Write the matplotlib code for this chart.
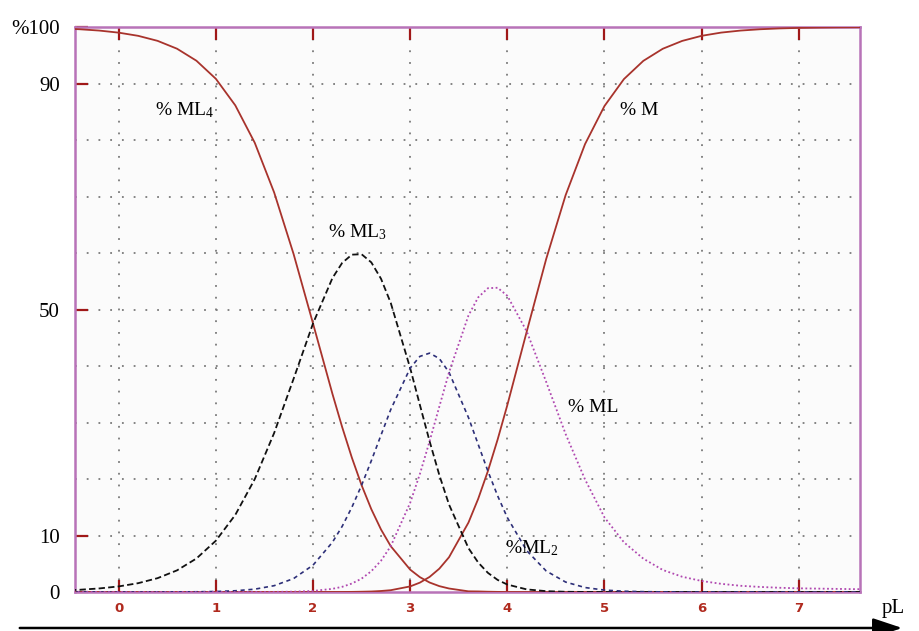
import numpy as np
import matplotlib
matplotlib.use("Agg")
import matplotlib.pyplot as plt
import matplotlib.patches as mpatches

plt.rcParams["mathtext.fontset"] = "custom"
plt.rcParams["mathtext.rm"] = "Liberation Serif"
plt.rcParams["mathtext.it"] = "Liberation Serif:italic"

# pL values along the x axis
pL = [-0.6, -0.4, -0.2, 0.0, 0.2, 0.4, 0.6, 0.8, 1.0, 1.2, 1.4, 1.6, 1.8, 2.0, 2.2,
      2.3, 2.4, 2.5, 2.6, 2.7, 2.8,
      3.0, 3.1, 3.2, 3.3, 3.4,
      3.6, 3.7, 3.8, 3.9,
      4.0, 4.2, 4.4, 4.6, 4.8, 5.0, 5.2, 5.4, 5.6, 5.8,
      6.0, 6.2, 6.4, 6.6, 6.8, 7.0, 7.2, 7.4, 7.6, 7.8]

# percentage of each species
pct_ML4 = [99.75, 99.60, 99.37, 99.00, 98.44, 97.55, 96.16, 94.03, 90.83, 86.13,
           79.52, 70.71, 59.82, 47.53, 35.06,
           29.19, 23.77, 18.90, 14.66, 11.06, 8.11,
           3.96, 2.63, 1.68, 1.04, 0.62,
           0.12, 0.10, 0.05, 0.02,
           0, 0, 0, 0, 0, 0, 0, 0, 0, 0,
           0, 0, 0, 0, 0, 0, 0, 0, 0, 0]
pct_ML3 = [0.25, 0.40, 0.63, 0.99, 1.56, 2.45, 3.83, 5.93, 9.08, 13.65,
           19.97, 28.15, 37.74, 47.53, 55.57,
           58.25, 59.71, 59.78, 58.34, 55.44, 51.17,
           39.63, 33.11, 26.68, 20.70, 15.47,
           7.76, 5.22, 3.39, 2.14,
           1.32, 0.46, 0.15, 0.04, 0.01, 0, 0, 0, 0, 0,
           0, 0, 0, 0, 0, 0, 0, 0, 0, 0]
pct_ML2 = [0, 0, 0, 0, 0, 0.01, 0.02, 0.04, 0.09, 0.22,
           0.50, 1.12, 2.38, 4.75, 8.81,
           11.62, 15.00, 18.90, 23.23, 27.78, 32.29,
           39.63, 41.70, 42.28, 41.32, 38.88,
           30.88, 26.13, 21.40, 17.03,
           13.17, 7.31, 3.72, 1.76, 0.79, 0.34, 0.14, 0.06, 0.02, 0.01,
           0, 0, 0, 0, 0, 0, 0, 0, 0, 0]
pct_ML = [0, 0, 0, 0, 0, 0, 0, 0, 0, 0,
          0.01, 0.02, 0.06, 0.19, 0.56,
          0.92, 1.50, 2.37, 3.68, 5.54, 8.11,
          15.78, 20.89, 26.68, 32.81, 38.88,
          48.94, 52.15, 53.77, 53.85,
          52.43, 46.11, 37.19, 27.96, 19.91, 13.20, 8.80, 5.90, 3.90, 2.70,
          1.95, 1.45, 1.10, 0.90, 0.75, 0.65, 0.60, 0.55, 0.50, 0.50]
pct_M = [0, 0, 0, 0, 0, 0, 0, 0, 0, 0,
         0, 0, 0, 0, 0.01,
         0.01, 0.02, 0.05, 0.09, 0.18, 0.32,
         0.99, 1.66, 2.67, 4.13, 6.16,
         12.29, 16.49, 21.40, 26.98,
         33.08, 46.11, 58.94, 70.24, 79.28, 86.02, 90.78, 94.01, 96.15, 97.54,
         98.44, 99.01, 99.37, 99.60, 99.75, 99.84, 99.90, 99.94, 99.96, 99.97]

x_ticks = [0, 1, 2, 3, 4, 5, 6, 7]
y_ticks = [0, 10, 50, 90, 100]
y_tick_labels = ["0", "10", "50", "90", "%100"]
y_grid = [10, 20, 30, 40, 50, 60, 70, 80, 90]

serif = "Liberation Serif"
brown = "#a8332c"
tick_red = "#a01818"
spine_col = "#b873b8"

fig = plt.figure(figsize=(9.19, 6.31), dpi=100)
ax = fig.add_axes([0.0816, 0.0618, 0.8542, 0.8954])
ax.set_facecolor("#fbfbfb")

# dotted grid
for yv in y_grid:
    ax.axhline(yv, color="#7a7a7a", lw=1.3, ls=(0, (1, 5.5)), zorder=1)
for xv in x_ticks:
    ax.axvline(xv, color="#7a7a7a", lw=1.3, ls=(0, (1, 5.5)), zorder=1)

ax.plot(pL, pct_ML4, color=brown, lw=1.3, zorder=3)
ax.plot(pL, pct_M, color=brown, lw=1.3, zorder=3)
ax.plot(pL, pct_ML3, color="#111111", lw=1.3, ls=(0, (3.5, 1.8)), zorder=3)
ax.plot(pL, pct_ML2, color="#2d2f78", lw=1.2, ls=(0, (2.5, 2.2)), zorder=3)
ax.plot(pL, pct_ML, color="#b048b0", lw=1.3, ls=(0, (1, 1.4)), zorder=3)

ax.set_xlim(-0.45, 7.63)
ax.set_ylim(0, 100)

for s in ax.spines.values():
    s.set_color(spine_col)
    s.set_linewidth(1.8)

ax.set_xticks(x_ticks)
ax.set_xticklabels([str(v) for v in x_ticks], fontweight="bold",
                   color="#b02a1e", fontsize=9.5, family="DejaVu Sans")
ax.tick_params(axis="x", direction="in", length=9, width=1.6, color=tick_red,
               top=True, pad=7)
ax.set_yticks(y_ticks)
ax.set_yticklabels(y_tick_labels, family=serif, fontsize=15)
ax.tick_params(axis="y", direction="in", length=9, width=1.6, color=tick_red,
               pad=11)

# curve labels
lab = dict(family=serif, fontsize=14, va="center", ha="left")
ax.text(0.37, 85.3, r"% ML$_\mathrm{4}$", **lab)
ax.text(2.15, 63.7, r"% ML$_\mathrm{3}$", **lab)
ax.text(5.16, 85.3, "% M", **lab)
ax.text(4.62, 32.6, "% ML", **lab)
ax.text(3.98, 7.8, r"%ML$_\mathrm{2}$", **lab)

# pL axis arrow under the chart
fig.text(0.972, 0.036, "pL", family=serif, fontsize=15, ha="center", va="center")
fig.add_artist(mpatches.FancyArrowPatch(
    (17 / 919, 1 - 628 / 631), (905 / 919, 1 - 628 / 631),
    transform=fig.transFigure, arrowstyle="-|>,head_length=1.2,head_width=0.4",
    mutation_scale=15, color="black", lw=1.8))

fig.savefig("out.png", dpi=100)
